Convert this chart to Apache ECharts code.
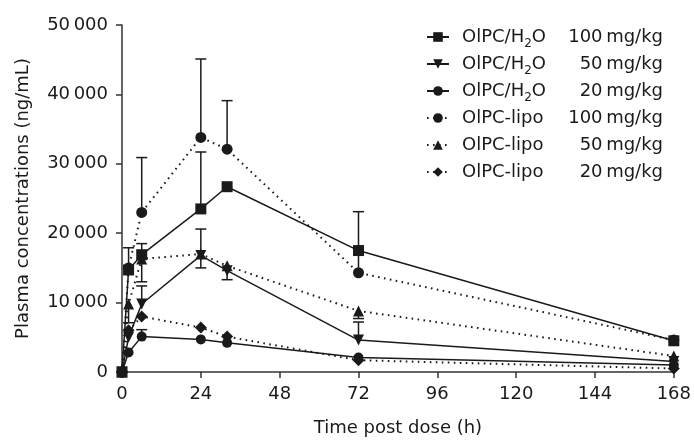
<!DOCTYPE html>
<html><head><meta charset="utf-8">
<script src="https://cdn.jsdelivr.net/npm/echarts@6/dist/echarts.min.js"></script>
<style>html,body{margin:0;padding:0;background:#fff}#c{width:694px;height:442px}</style>
</head><body><div id="c"></div>
<script>
var times = [0, 2, 6, 24, 32, 72, 168];
var xTicks = [0, 24, 48, 72, 96, 120, 144, 168];
var yTicks = [0, 10000, 20000, 30000, 40000, 50000];

var h2o100  = [0, 14700, 16900, 23500, 26700, 17500, 4500];
var h2o50   = [0, 5000, 9800, 16800, 14600, 4600, 1500];
var h2o20   = [0, 2800, 5100, 4700, 4200, 2100, 1000];
var lipo100 = [0, 15000, 23000, 33800, 32100, 14300, 4600];
var lipo50  = [0, 9800, 16300, 17000, 15300, 8800, 2300];
var lipo20  = [0, 6000, 8000, 6400, 5100, 1700, 500];

// error bars: [time, mean, bound]
var errH2o100  = [[2, 14700, 17900], [6, 16900, 18500], [24, 23500, 31700], [72, 17500, 23100]];
var errLipo100 = [[6, 23000, 30900], [24, 33800, 45100], [32, 32100, 39100], [72, 14300, 17500]];
var errH2o50   = [[6, 9800, 12400], [24, 16800, 20600], [24, 16800, 15000], [32, 14600, 13300], [72, 4600, 7200]];
var errLipo50  = [[2, 9800, 7100], [6, 16300, 13000], [72, 8800, 7700]];
var errH2o20   = [[6, 5100, 6100]];

var names = ['OlPC/H₂O 100', 'OlPC/H₂O 50', 'OlPC/H₂O 20', 'OlPC-lipo 100', 'OlPC-lipo 50', 'OlPC-lipo 20'];
var legendText = {
  'OlPC/H₂O 100': ['OlPC/H', '2', 'O', '100\u2009mg/kg'],
  'OlPC/H₂O 50':  ['OlPC/H', '2', 'O', '50\u2009mg/kg'],
  'OlPC/H₂O 20':  ['OlPC/H', '2', 'O', '20\u2009mg/kg'],
  'OlPC-lipo 100': ['OlPC-lipo', ' ', '', '100\u2009mg/kg'],
  'OlPC-lipo 50':  ['OlPC-lipo', ' ', '', '50\u2009mg/kg'],
  'OlPC-lipo 20':  ['OlPC-lipo', ' ', '', '20\u2009mg/kg']
};

function pairs(vals) { return times.map(function (t, i) { return [t, vals[i]]; }); }

var FONT = '"DejaVu Sans", sans-serif';
var FS = 18;
var INK = '#1a1a1a';
var dotted = [1.6, 4.4];
var invTri = 'path://M0,0 L10,0 L5,9 Z';

function lineSeries(name, vals, symbol, size, solid, z) {
  return {
    name: name, type: 'line', data: pairs(vals), symbol: symbol, symbolSize: size,
    itemStyle: { color: INK },
    lineStyle: { color: INK, width: solid ? 1.5 : 2, type: solid ? 'solid' : dotted, cap: 'butt' },
    z: z || 3, animation: false
  };
}

var allErr = [].concat(errH2o100, errLipo100, errH2o50, errLipo50, errH2o20);

var option = {
  animation: false,
  grid: { left: 122, right: 20, top: 25, bottom: 65 },
  legend: {
    orient: 'vertical', left: 421, top: 19, itemWidth: 22, itemHeight: 12, itemGap: 1,
    data: names,
    formatter: function (n) {
      var p = legendText[n];
      return '{n|' + p[0] + '}{s|' + p[1] + '}' + (p[2] ? '{n|' + p[2] + '}' : '') + '{d|' + p[3] + '}';
    },
    textStyle: {
      width: 201, height: 26, lineHeight: 26, fontFamily: FONT, color: INK,
      rich: {
        n: { fontFamily: FONT, fontSize: FS, color: INK, lineHeight: 26 },
        s: { fontFamily: FONT, fontSize: 12, color: INK, lineHeight: 13, verticalAlign: 'bottom' },
        d: { fontFamily: FONT, fontSize: FS, color: INK, lineHeight: 26, align: 'right' }
      },
      padding: [0, 0, 0, 8]
    }
  },
  xAxis: {
    type: 'value', min: 0, max: 168, interval: 24,
    name: 'Time post dose (h)', nameLocation: 'middle', nameGap: 47,
    nameTextStyle: { fontFamily: FONT, fontSize: FS, color: INK },
    axisLine: { lineStyle: { color: '#333', width: 1.5 } },
    axisTick: { length: 6, lineStyle: { color: '#333', width: 1.5 } },
    axisLabel: { fontFamily: FONT, fontSize: FS, color: INK, margin: 13,
      formatter: function (v) { return xTicks.indexOf(v) >= 0 ? String(v) : ''; } },
    splitLine: { show: false }
  },
  yAxis: {
    type: 'value', min: 0, max: 50000, interval: 10000,
    name: 'Plasma concentrations (ng/mL)', nameLocation: 'middle', nameGap: 90, nameRotate: 90,
    nameTextStyle: { fontFamily: FONT, fontSize: FS, color: INK },
    axisLine: { show: true, lineStyle: { color: '#333', width: 1.5 } },
    axisTick: { show: true, length: 6, lineStyle: { color: '#333', width: 1.5 } },
    axisLabel: { fontFamily: FONT, fontSize: FS, color: INK, margin: 14,
      formatter: function (v) {
        if (yTicks.indexOf(v) < 0) return '';
        var s = String(v);
        return s.length > 3 ? s.slice(0, s.length - 3) + '\u2009' + s.slice(-3) : s;
      } },
    splitLine: { show: false }
  },
  series: [
    {
      type: 'custom', name: 'err', data: allErr, z: 2, silent: true,
      encode: { x: 0, y: [1, 2] },
      renderItem: function (params, api) {
        var t = api.value(0), m = api.value(1), b = api.value(2);
        var p0 = api.coord([t, m]), p1 = api.coord([t, b]);
        var st = { stroke: INK, lineWidth: 1.5 };
        return { type: 'group', children: [
          { type: 'line', shape: { x1: p0[0], y1: p0[1], x2: p1[0], y2: p1[1] }, style: st },
          { type: 'line', shape: { x1: p1[0] - 5.5, y1: p1[1], x2: p1[0] + 5.5, y2: p1[1] }, style: st }
        ] };
      }
    },
    lineSeries(names[0], h2o100, 'rect', 11, true, 4),
    lineSeries(names[1], h2o50, invTri, 11, true),
    lineSeries(names[2], h2o20, 'circle', 10, true),
    lineSeries(names[3], lipo100, 'circle', 11, false),
    lineSeries(names[4], lipo50, 'triangle', 11, false),
    lineSeries(names[5], lipo20, 'diamond', 12, false)
  ]
};
var chart = echarts.init(document.getElementById('c'), null, { renderer: 'canvas' });
chart.setOption(option);
</script></body></html>
